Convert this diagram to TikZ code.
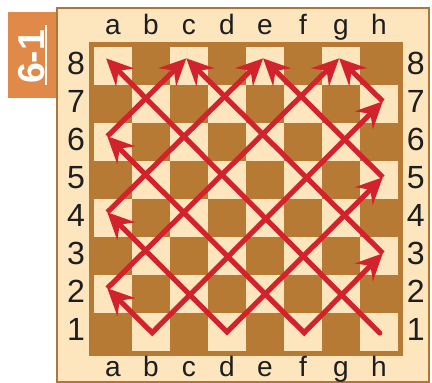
\documentclass[tikz,border=0pt]{standalone}
\usepackage{fontspec}
\setmainfont{Liberation Sans}
\usetikzlibrary{arrows.meta}
\definecolor{boardLight}{RGB}{253,229,189}
\definecolor{boardDark}{RGB}{183,122,52}
\definecolor{frameBrown}{RGB}{176,118,55}
\definecolor{tagOrange}{RGB}{224,137,72}
\definecolor{moveRed}{RGB}{210,35,45}
\definecolor{labelInk}{RGB}{30,30,30}
\tikzset{
  board frame/.style={draw=frameBrown,fill=boardLight,line width=.07cm},
  dark square/.style={fill=boardDark},
  light square/.style={fill=boardLight},
  file label/.style={anchor=base,font=\fontsize{21}{23}\selectfont,text=labelInk,inner sep=0pt},
  rank label/.style={font=\fontsize{24}{26}\selectfont,text=labelInk,inner sep=0pt},
  tag box/.style={fill=tagOrange},
  tag text/.style={rotate=90,font=\fontsize{28}{30}\selectfont\bfseries,text=white,inner sep=0pt},
  move tip/.tip={Stealth[length=7mm,width=6.6mm,inset=2.4mm]},
  bishop move/.style={-move tip,line width=1.35mm,draw=moveRed},
  bishop fork/.style={move tip-move tip,line width=1.35mm,draw=moveRed}
}
\begin{document}
\begin{tikzpicture}[x=1cm,y=1cm]
  \useasboundingbox (-1.974,-.342) rectangle (9.395,9.737);
  % tag
  \fill[tag box] (-1.763,7.16) rectangle (-.474,9.42);
  \node[tag text] (tag) at (-1.15,8.24) {6-1};
  \draw[white,line width=.045cm] (-.76,7.5) -- (-.76,9.08);
  % board
  \draw[board frame] (-.474,-.316) rectangle (9.316,9.526);
  \fill[dark square] (.37,.37) rectangle (8.63,8.63);
  \foreach \f in {1,...,8}{
    \foreach \r in {1,...,8}{
      \pgfmathtruncatemacro\s{\f+\r}
      \ifodd\s \fill[light square] (\f-.5,\r-.5) rectangle +(1,1); \fi
    }
  }
  \foreach \l [count=\i] in {a,b,c,d,e,f,g,h}{
    \node[file label] (top \l) at (\i,8.84) {\l};
    \node[file label] (bottom \l) at (\i,-.18) {\l};
  }
  \foreach \r in {1,...,8}{
    \node[rank label] (left \r) at (.026,\r+.06) {\r};
    \node[rank label] (right \r) at (8.97,\r+.06) {\r};
  }
  % squares of the path
  \coordinate (a8) at (.82,8.2);
  \coordinate (c8) at (2.93,8.2);
  \coordinate (e8) at (4.95,8.2);
  \coordinate (g8) at (6.95,8.2);
  \coordinate (a2) at (.85,2.15);
  \coordinate (a4) at (.85,4.15);
  \coordinate (a6) at (.85,6.15);
  \coordinate (h3) at (8.1,3.07);
  \coordinate (h5) at (8.1,5.07);
  \coordinate (h7) at (8.1,7.07);
  \coordinate (b1) at (2.03,.98);
  \coordinate (d1) at (4,1);
  \coordinate (f1) at (6.03,.98);
  \coordinate (h1) at (8.02,.97);
  % moves
  \draw[bishop move,line cap=round] (h1) -- (a8);
  \draw[bishop fork] (a2) -- (b1) -- (h7);
  \draw[bishop fork] (a4) -- (d1) -- (h5);
  \draw[bishop fork] (a6) -- (f1) -- (h3);
  \draw[bishop move] (a2) -- (g8);
  \draw[bishop move] (a4) -- (e8);
  \draw[bishop move] (a6) -- (c8);
  \draw[bishop move] (h3) -- (c8);
  \draw[bishop move] (h5) -- (e8);
  \draw[bishop move] (h7) -- (g8);
\end{tikzpicture}
\end{document}
